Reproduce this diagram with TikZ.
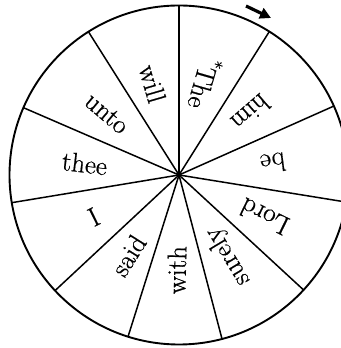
\documentclass[tikz,border=0pt]{standalone}
\usepackage{fontspec}
\setmainfont{Latin Modern Roman}[FakeBold=0.6]
\usetikzlibrary{arrows.meta,calc}
\tikzset{
  wheel/.style={line width=1.9pt},
  spoke/.style={line width=1.5pt},
  word/.style={font=\fontsize{27}{31}\selectfont, inner sep=0pt},
  turn/.style={line width=3.2pt, -{Triangle[length=11pt,width=11pt]}}
}
\begin{document}
\begin{tikzpicture}[x=1pt,y=1pt]
\useasboundingbox (0,0) rectangle (340,348);
\coordinate (c) at (179,173);
\draw[wheel] (c) circle[radius=169.5];
\foreach \a [count=\i] in {90,57.8,24,-9.2,-42.7,-75.3,-107.5,-137,-170.6,156.6,122.3}{
  \coordinate (s\i) at ($(c)+(\a:169.5)$);
}
\foreach \i in {1,...,11}{ \draw[spoke] (c) -- (s\i); }
\fill (c) circle[radius=2.4];
\foreach \a/\w/\n in {73.9/\textsuperscript{*}The/w1, 40.9/him/w2, 7.4/be/w3, -26/Lord/w4,
  -59/surely/w5, -91.4/with/w6, -122.2/said/w7, -153.8/I/w8, 173/thee/w9, 139.5/unto/w10, 106.2/will/w11}{
  \node[word, rotate=\a+180] (\n) at ($(c)+(\a:95)$) {\w};
}
\coordinate (a1) at (246,342);
\coordinate (a2) at (271,330);
\draw[turn] (a1) -- (a2);
\end{tikzpicture}
\end{document}
